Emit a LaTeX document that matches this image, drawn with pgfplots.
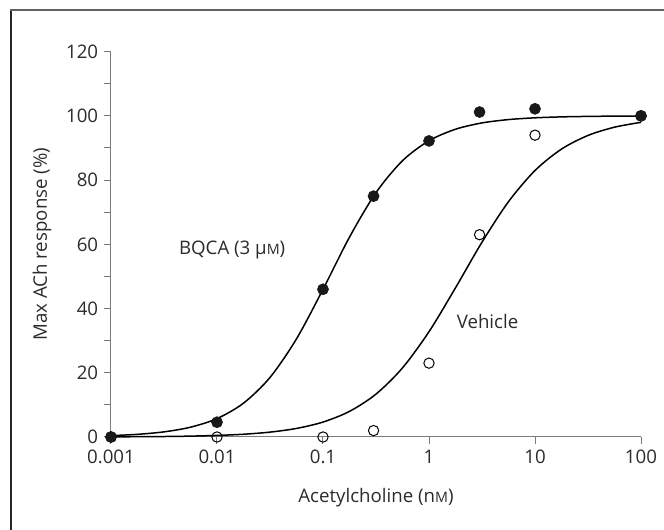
\documentclass[border=0pt]{standalone}
\usepackage{fontspec}
\setmainfont{Open Sans}
\usepackage{pgfplots}
\pgfplotsset{compat=1.18}
\definecolor{axisgray}{HTML}{7A7A7A}
\definecolor{txt}{HTML}{2B2B2B}
\newcommand{\smallM}{{\fontsize{8.6}{9}\selectfont M}}

\begin{document}
\begin{tikzpicture}
\begin{axis}[
  at={(0,0)}, anchor=south west,
  scale only axis, width=318pt, height=231.2pt,
  xmode=log, xmin=0.001, xmax=100, ymin=0, ymax=120,
  axis x line*=bottom, axis y line*=left,
  axis line style={axisgray, line width=0.6pt},
  tick style={axisgray, line width=0.6pt},
  tick align=outside, major tick length=4.2pt, minor tick length=4.2pt,
  xtick={0.001,0.01,0.1,1,10,100},
  xticklabels={0.001,0.01,0.1,1,10,100},
  xminorticks=false,
  ytick={0,20,40,60,80,100,120}, minor y tick num=1,
  /pgf/number format/assume math mode=true,
  tick label style={font=\fontsize{11.2}{13}\selectfont, color=txt},
  label style={font=\fontsize{11.2}{13}\selectfont, color=txt},
  xlabel={Acetylcholine (n\smallM)},
  ylabel={Max ACh response (\%)},
  xlabel style={at={(axis description cs:0.5,-0.158)}, anchor=center},
  ylabel style={at={(axis description cs:-0.130,0.5)}, anchor=center},
  clip=false,
  ]
% fitted curves
\addplot[black, line width=0.9pt, smooth] coordinates {
  (0.001,0.43) (0.001778,0.83) (0.003162,1.60) (0.005623,3.05) (0.01,5.73)
  (0.01778,10.53) (0.03162,18.54) (0.05623,30.56) (0.1,45.98) (0.1778,62.23)
  (0.3162,76.10) (0.5623,86.04) (1,92.26) (1.778,95.84) (3.162,97.81)
  (5.623,98.85) (10,99.40) (17.78,99.69) (31.62,99.84) (56.23,99.92) (100,99.96)};
\addplot[black, line width=0.9pt, smooth] coordinates {
  (0.001,0.05) (0.001778,0.09) (0.003162,0.15) (0.005623,0.27) (0.01,0.49)
  (0.01778,0.86) (0.03162,1.52) (0.05623,2.67) (0.1,4.65) (0.1778,7.98)
  (0.3162,13.36) (0.5623,21.52) (1,32.79) (1.778,46.45) (3.162,60.67)
  (5.623,73.28) (10,82.99) (17.78,89.66) (31.62,93.91) (56.23,96.48) (100,97.99)};
% vehicle (open)
\addplot[only marks, mark=o, mark size=3.1pt, mark options={draw=black, fill=none, line width=0.6pt}] coordinates {
  (0.001,0) (0.01,0) (0.1,0) (0.3,2) (1,23) (3,63) (10,94) (100,100)};
% BQCA (filled)
\addplot[only marks, mark=*, mark size=3.3pt, mark options={draw=black!90, fill=black!90}] coordinates {
  (0.001,0) (0.01,4.6) (0.1,46) (0.3,75) (1,92.2) (3,101.2) (10,102.2) (100,100)};
\node[font=\fontsize{11.2}{13}\selectfont, color=txt, anchor=center] at (axis cs:0.0139,58.3) {BQCA (3 μ\smallM)};
\node[font=\fontsize{11.2}{13}\selectfont, color=txt, anchor=west] at (axis cs:1.61,36) {Vehicle};
\end{axis}
\draw[black!62, line width=1.2pt] (-60pt,-120pt) -- (-60pt,256.2pt) -- (420pt,256.2pt);
\draw[black!85, line width=1.1pt] (-60pt,-120pt) -- (-60pt,255.6pt);
\pgfresetboundingbox
\useasboundingbox (-66.6pt,-55.8pt) rectangle (331.8pt,262.2pt);
\end{tikzpicture}
\end{document}
